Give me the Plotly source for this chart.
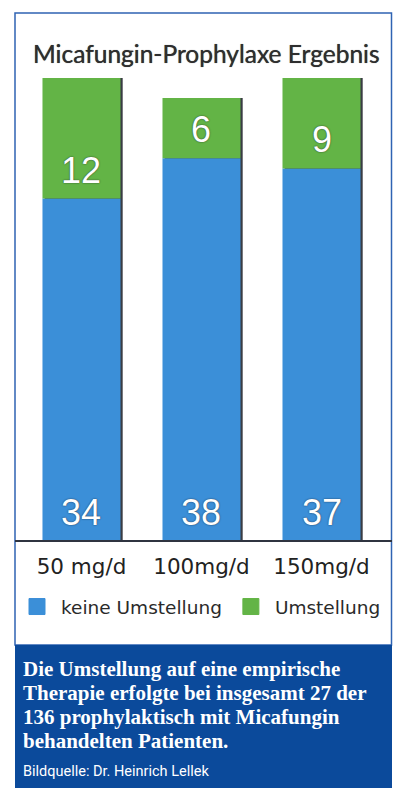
import plotly.graph_objects as go

# Dosing groups and patient counts per outcome
categories = ["50 mg/d", "100mg/d", "150mg/d"]
keine_umstellung = [34, 38, 37]
umstellung = [12, 6, 9]
series_names = ["keine Umstellung", "Umstellung"]

title_text = "Micafungin-Prophylaxe Ergebnis"
caption_lines = [
    "Die Umstellung auf eine empirische",
    "Therapie erfolgte bei insgesamt 27 der",
    "136 prophylaktisch mit Micafungin",
    "behandelten Patienten.",
]
source_text = "Bildquelle: Dr. Heinrich Lellek"

W, H = 398, 788
BLUE = "#3b8fd8"
GREEN = "#63b446"
NAVY = "#0b4a9b"
FRAME = "#2f63b3"

totals = [a + b for a, b in zip(keine_umstellung, umstellung)]
bar_w = 0.65
px_unit = (392 - 15) / (2.5875 + 0.554)  # pixels per category step


def px(x):
    return x / W


def py(y):
    return 1 - y / H


fig = go.Figure()

# thin dark drop shadow on the right side of each column
fig.add_trace(go.Bar(
    x=categories, y=totals, width=bar_w, offset=-bar_w / 2 + 2.2 / px_unit,
    marker=dict(color="#3a3d44", line=dict(width=0)),
    showlegend=False, hoverinfo="skip",
))
# lower segment: no change of therapy
fig.add_trace(go.Bar(
    x=categories, y=keine_umstellung, base=[0] * len(categories), width=bar_w,
    marker=dict(color=BLUE, line=dict(width=0)), name=series_names[0],
    showlegend=False,
))
# upper segment: change of therapy
fig.add_trace(go.Bar(
    x=categories, y=umstellung, base=keine_umstellung, width=bar_w,
    marker=dict(color=GREEN, line=dict(width=0)), name=series_names[1],
    showlegend=False,
))

# legend entries with larger square swatches
for name, col in zip(series_names, [BLUE, GREEN]):
    fig.add_trace(go.Scatter(
        x=[None], y=[None], mode="markers", name=name,
        marker=dict(symbol="square", size=16, color=col, line=dict(width=1, color=col)),
    ))

annotations = []
value_font = dict(family="Liberation Sans, Arial", size=36, color="white",
                  shadow="0px 0px 1.5px rgba(20,20,30,0.9)")
for cat, lo, hi in zip(categories, keine_umstellung, umstellung):
    annotations.append(dict(x=cat, y=0, xref="x", yref="y", text=str(lo),
                            showarrow=False, yanchor="bottom", yshift=5, font=value_font))
    annotations.append(dict(x=cat, y=lo, xref="x", yref="y", text=str(hi),
                            showarrow=False, yanchor="bottom", yshift=6, font=value_font))

annotations.append(dict(x=px(206), y=py(53), xref="paper", yref="paper", text=title_text,
                        showarrow=False, xanchor="center", yanchor="middle",
                        font=dict(family="Lato", size=24.5, color="#2e2e2e",
                                  shadow="0px 0px 0.7px rgba(40,40,40,0.9)")))

line_tops = [655, 679, 703, 727]
for txt, top in zip(caption_lines, line_tops):
    annotations.append(dict(x=px(21), y=py(top), xref="paper", yref="paper", text=f"<b>{txt}</b>",
                            showarrow=False, xanchor="left", yanchor="top", align="left",
                            font=dict(family="Liberation Serif, Times New Roman", size=21, color="white")))
annotations.append(dict(x=px(21), y=py(761), xref="paper", yref="paper", text=source_text,
                        showarrow=False, xanchor="left", yanchor="top", align="left",
                        font=dict(family="Liberation Sans Narrow, Roboto", size=14.5, color="white")))

shapes = [
    # outer frame
    dict(type="rect", xref="paper", yref="paper", x0=px(15), x1=px(391.5), y0=py(645), y1=py(13),
         line=dict(color=FRAME, width=1.5), fillcolor="rgba(0,0,0,0)", layer="below"),
    # caption panel
    dict(type="rect", xref="paper", yref="paper", x0=px(15), x1=px(392), y0=0, y1=py(645),
         line=dict(width=0), fillcolor=NAVY, layer="above"),
]

fig.update_layout(
    width=W, height=H,
    margin=dict(l=0, r=0, t=0, b=0),
    paper_bgcolor="white", plot_bgcolor="white",
    barmode="overlay",
    showlegend=True,
    legend=dict(orientation="h", x=px(13), y=py(607), xanchor="left", yanchor="middle",
                itemwidth=38, traceorder="normal",
                font=dict(family="DejaVu Sans", size=18.5, color="#2a2a2a"),
                bgcolor="rgba(0,0,0,0)"),
    xaxis=dict(domain=[px(15), px(392)], range=[-0.554, 2.5875], type="category",
               showline=True, linecolor="#2f3440", linewidth=2, showgrid=False,
               zeroline=False, ticks="", tickfont=dict(family="DejaVu Sans", size=21.5, color="#222"),
               ticklabelstandoff=6, fixedrange=True),
    yaxis=dict(domain=[py(540), py(78)], range=[0, max(totals)], visible=False,
               showgrid=False, zeroline=False, fixedrange=True),
    annotations=annotations,
    shapes=shapes,
)

fig.write_html("out.html")
